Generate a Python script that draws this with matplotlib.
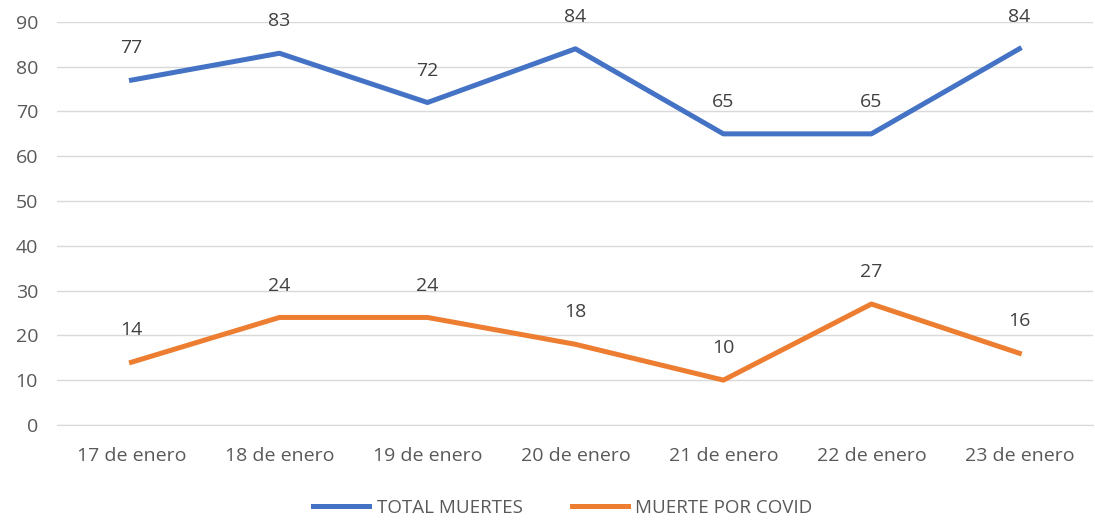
import matplotlib
matplotlib.use("Agg")
import matplotlib.pyplot as plt

categories = ["17 de enero", "18 de enero", "19 de enero", "20 de enero",
              "21 de enero", "22 de enero", "23 de enero"]
total_muertes = [77, 83, 72, 84, 65, 65, 84]
muerte_covid = [14, 24, 24, 18, 10, 27, 16]

plt.rcParams['font.family'] = ['Open Sans', 'DejaVu Sans']

fig = plt.figure(figsize=(10.95, 5.22), dpi=100)
ax = fig.add_axes([0.0525, 0.186, 0.946, 0.772])

x = list(range(len(categories)))
blue = "#4472C4"
orange = "#ED7D31"
ax.plot(x, total_muertes, color=blue, lw=3.6, label="TOTAL MUERTES", solid_joinstyle='round')
ax.plot(x, muerte_covid, color=orange, lw=3.6, label="MUERTE POR COVID", solid_joinstyle='round')

for series in (total_muertes, muerte_covid):
    for xi, v in zip(x, series):
        ax.annotate(str(v), (xi, v), xytext=(0, 23), textcoords="offset points",
                    ha="center", va="center", fontsize=14, color="#404040")

ax.set_xlim(-0.5, len(categories) - 0.5)
ax.set_ylim(0, 90)
ax.set_yticks(range(0, 91, 10))
ax.set_xticks(x)
ax.set_xticklabels(categories)
ax.yaxis.grid(True, color="#D9D9D9", lw=1)
ax.set_axisbelow(True)
for s in ["top", "right", "left"]:
    ax.spines[s].set_visible(False)
ax.spines["bottom"].set_color("#D9D9D9")
ax.tick_params(axis="both", length=0, labelsize=14, colors="#595959")
ax.tick_params(axis="x", pad=16)
ax.tick_params(axis="y", pad=14)

fig.legend(loc="center", bbox_to_anchor=(0.514, 0.027), ncol=2, frameon=False,
           fontsize=13.5, labelcolor="#595959", handlelength=3.0, handletextpad=0.4,
           columnspacing=2.6)

fig.savefig("out.png", dpi=100)
